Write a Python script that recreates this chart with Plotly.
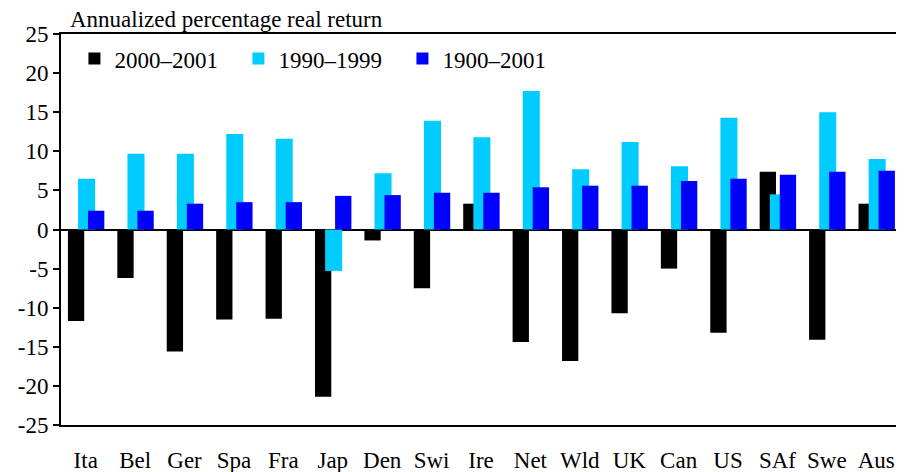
import plotly.graph_objects as go

categories = ["Ita", "Bel", "Ger", "Spa", "Fra", "Jap", "Den", "Swi", "Ire", "Net",
              "Wld", "UK", "Can", "US", "SAf", "Swe", "Aus"]
r_2000_2001 = [-11.7, -6.2, -15.6, -11.5, -11.4, -21.4, -1.4, -7.5, 3.3, -14.4,
               -16.8, -10.7, -5.0, -13.2, 7.4, -14.1, 3.3]
r_1990_1999 = [6.5, 9.7, 9.7, 12.2, 11.6, -5.3, 7.2, 13.9, 11.8, 17.7,
               7.7, 11.2, 8.1, 14.3, 4.5, 15.0, 9.0]
r_1900_2001 = [2.4, 2.4, 3.3, 3.5, 3.5, 4.3, 4.4, 4.7, 4.7, 5.4,
               5.6, 5.6, 6.2, 6.5, 7.0, 7.4, 7.5]
y_ticks = [-25, -20, -15, -10, -5, 0, 5, 10, 15, 20, 25]
y_tick_labels = ["-25", "-20", "-15", "-10", "-5", "0", "5", "10", "15", "20", "25"]

FONT = "Liberation Serif, Times New Roman, serif"
FS = 23

fig = go.Figure()
fig.add_bar(x=categories, y=r_2000_2001, name="2000\u20132001",
            marker=dict(color="#000000", line=dict(width=0)),
            width=0.33, offset=-0.36)
fig.add_bar(x=categories, y=r_1990_1999, name="1990\u20131999",
            marker=dict(color="#00CCFF", line=dict(width=0)),
            width=0.345, offset=-0.155)
fig.add_bar(x=categories, y=r_1900_2001, name="1900\u20132001",
            marker=dict(color="#0000FF", line=dict(width=0)),
            width=0.33, offset=0.047)

# page body has an 8px margin, so the figure is sized/offset to compensate
fig.update_layout(
    width=896, height=464,
    barmode="overlay",
    plot_bgcolor="white", paper_bgcolor="white",
    margin=dict(l=53, r=3, t=26, b=47, autoexpand=False),
    font=dict(family=FONT, size=FS, color="black"),
    showlegend=True,
    legend=dict(orientation="h", x=0.016, y=0.992, xanchor="left", yanchor="top",
                bgcolor="rgba(0,0,0,0)", font=dict(family=FONT, size=FS),
                entrywidth=119, entrywidthmode="pixels",
                traceorder="normal"),
    annotations=[dict(text="Annualized percentage real return", xref="paper", yref="paper",
                      x=0.0, y=1.0, xanchor="left", yanchor="bottom", showarrow=False,
                      xshift=7, yshift=0, font=dict(family=FONT, size=FS, color="black"))],
)
fig.update_xaxes(showline=True, linewidth=2, linecolor="black", mirror=True,
                 ticks="", showgrid=False, zeroline=False, automargin=False,
                 ticklabelstandoff=13, tickfont=dict(family=FONT, size=FS))
fig.update_yaxes(range=[-25, 25], tickvals=y_ticks, ticktext=y_tick_labels,
                 showline=True, linewidth=2,
                 linecolor="black", mirror=True, ticks="outside", ticklen=6,
                 tickwidth=2, tickcolor="black", showgrid=False, automargin=False,
                 zeroline=True, zerolinecolor="black", zerolinewidth=2,
                 tickfont=dict(family=FONT, size=FS))

fig.write_html("out.html")
